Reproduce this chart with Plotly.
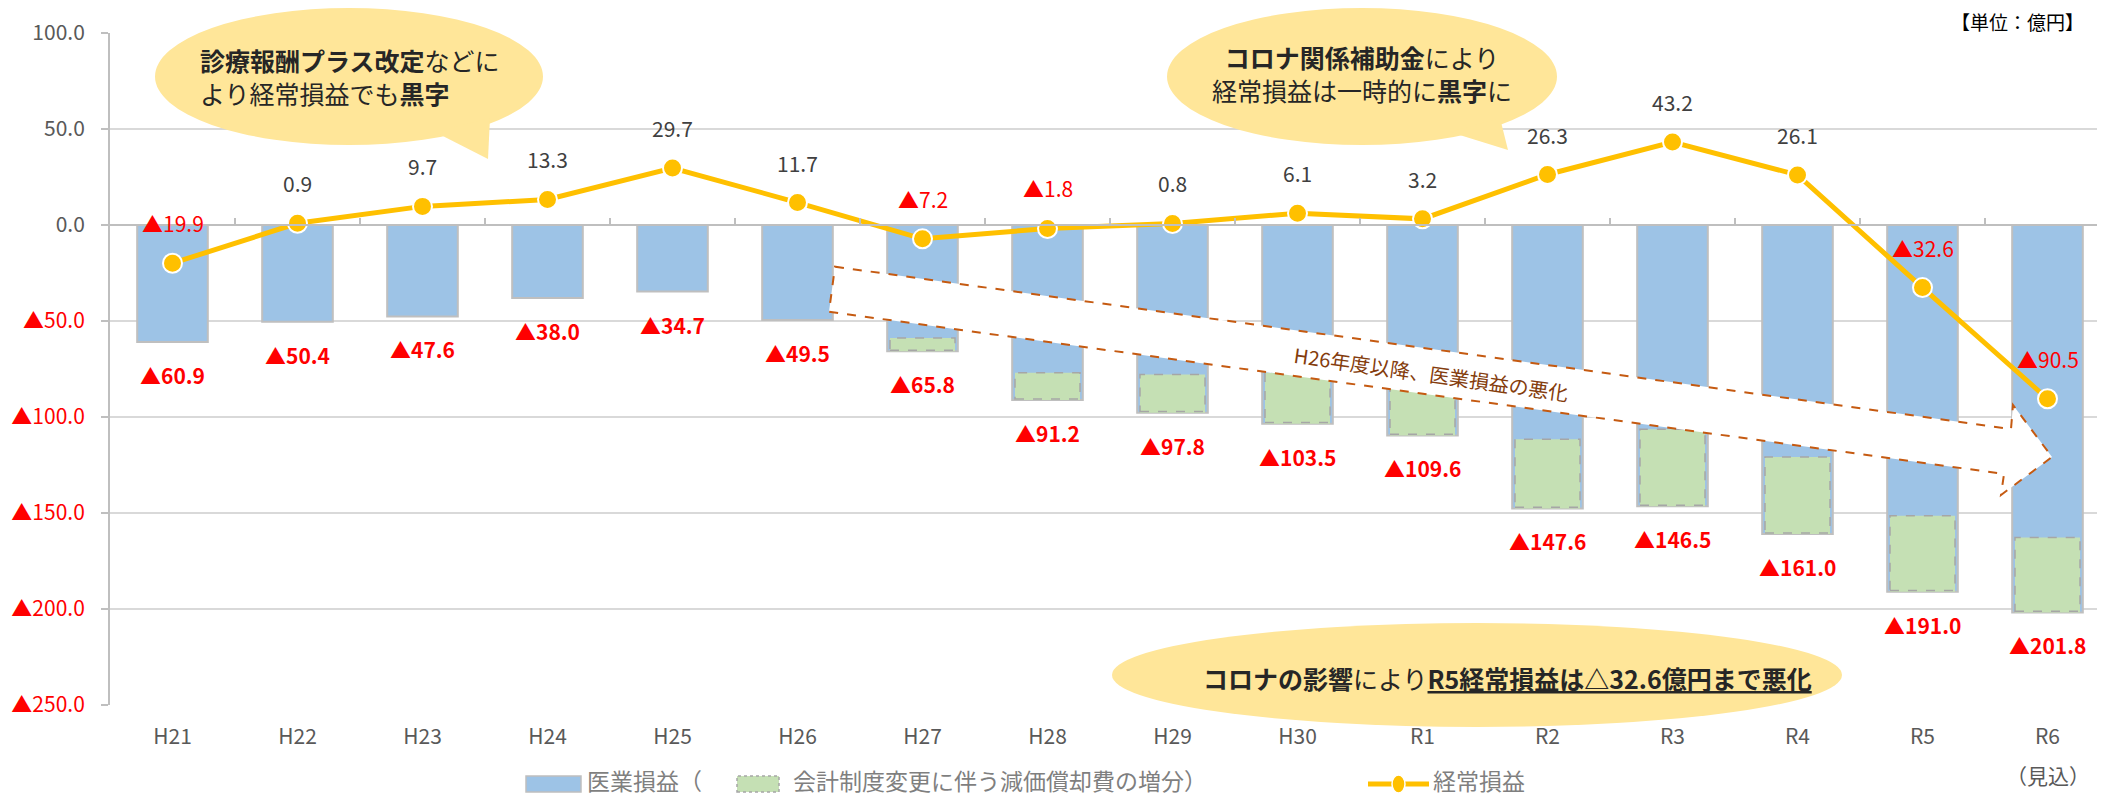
import plotly.graph_objects as go

# ---------------- data ----------------
categories = ["H21", "H22", "H23", "H24", "H25", "H26", "H27", "H28",
              "H29", "H30", "R1", "R2", "R3", "R4", "R5", "R6"]
medical_profit = [-60.9, -50.4, -47.6, -38.0, -34.7, -49.5, -65.8, -91.2,
                  -97.8, -103.5, -109.6, -147.6, -146.5, -161.0, -191.0, -201.8]
depreciation_increase = [0, 0, 0, 0, 0, 0, 6.9, 14.2,
                         19.9, 26.5, 27.0, 36.0, 40.1, 40.2, 39.6, 39.0]
ordinary_profit = [-19.9, 0.9, 9.7, 13.3, 29.7, 11.7, -7.2, -1.8,
                   0.8, 6.1, 3.2, 26.3, 43.2, 26.1, -32.6, -90.5]
ytick_vals = [100, 50, 0, -50, -100, -150, -200, -250]
ytick_labels = ["100.0", "50.0", "0.0", "▲50.0", "▲100.0", "▲150.0", "▲200.0", "▲250.0"]

FONT = "Noto Sans CJK JP"
W, H = 2105, 797
OFF = 8                      # page body margin in the browser
ML, MR, MT, MB = 102, 3, 25, 100
PL, PT = ML, MT
PW, PH = W - ML - MR, H - MT - MB


def px(x):          # screen pixel -> paper fraction
    return (x - OFF - PL) / PW


def py(y):
    return (PT + PH - (y - OFF)) / PH


def fmt(v):
    return "▲%.1f" % abs(v) if v < 0 else "%.1f" % v


fig = go.Figure()

# blue bars (医業損益)
fig.add_trace(go.Bar(
    x=categories, y=medical_profit, width=0.565,
    marker=dict(color="#9DC3E6", line=dict(color="#BFBFBF", width=2)),
    showlegend=False, hoverinfo="skip"))

# green portion (減価償却費の増分)
g_x, g_y, g_base = [], [], []
for c, t, g in zip(categories, medical_profit, depreciation_increase):
    if g > 0:
        g_x.append(c)
        g_y.append(-g)
        g_base.append(t + g)
fig.add_trace(go.Bar(
    x=g_x, y=g_y, base=g_base, width=0.52,
    marker=dict(color="#C5E0B4", line=dict(width=0)),
    showlegend=False, hoverinfo="skip"))

# line (経常損益)
fig.add_trace(go.Scatter(
    x=categories, y=ordinary_profit, mode="lines+markers",
    line=dict(color="#FFC000", width=5),
    marker=dict(size=19, color="#FFC000", line=dict(color="white", width=2)),
    showlegend=False, hoverinfo="skip"))

# dummy trace for zero-line axis
fig.add_trace(go.Scatter(x=[], y=[], xaxis="x2", yaxis="y", showlegend=False))

shapes = []
# dashed borders on green boxes
for i, (t, g) in enumerate(zip(medical_profit, depreciation_increase)):
    if g > 0:
        shapes.append(dict(type="rect", xref="x", yref="y",
                           x0=i - 0.26, x1=i + 0.26, y0=t + 0.6, y1=t + g,
                           line=dict(color="#A6A6A6", width=1.5, dash="dash"),
                           fillcolor="rgba(0,0,0,0)", layer="above"))

# big hollow arrow
arrow_pts = [(835, 266.7), (2011, 429), (2013, 405), (2052, 457),
             (2001, 495), (2004, 474), (829, 311.7)]
path = "M " + " L ".join("%f,%f" % (px(x), py(y)) for x, y in arrow_pts) + " Z"
shapes.append(dict(type="path", xref="paper", yref="paper", path=path,
                   fillcolor="white", line=dict(color="#C55A11", width=2, dash="dash"),
                   layer="above"))


def ellipse(x0, x1, y0, y1):
    return dict(type="circle", xref="paper", yref="paper",
                x0=px(x0), x1=px(x1), y0=py(y1), y1=py(y0),
                fillcolor="#FFE699", line=dict(width=0), layer="above")


def tri(pts):
    p = "M " + " L ".join("%f,%f" % (px(x), py(y)) for x, y in pts) + " Z"
    return dict(type="path", xref="paper", yref="paper", path=p,
                fillcolor="#FFE699", line=dict(width=0), layer="above")


shapes += [ellipse(155, 543, 8, 145), tri([(435, 132), (490, 118), (488, 159)]),
           ellipse(1167, 1557, 8, 145), tri([(1450, 132), (1500, 118), (1508, 150)]),
           ellipse(1112, 1842, 623, 727)]

# legend swatches
shapes += [
    dict(type="rect", xref="paper", yref="paper", x0=px(526), x1=px(581), y0=py(792), y1=py(776),
         fillcolor="#9DC3E6", line=dict(color="#BFBFBF", width=1.5)),
    dict(type="rect", xref="paper", yref="paper", x0=px(737), x1=px(779), y0=py(792), y1=py(776),
         fillcolor="#C5E0B4", line=dict(color="#A6A6A6", width=1.5, dash="dot")),
    dict(type="line", xref="paper", yref="paper", x0=px(1368), x1=px(1429), y0=py(784), y1=py(784),
         line=dict(color="#FFC000", width=5)),
    dict(type="circle", xref="paper", yref="paper", x0=px(1392), x1=px(1405), y0=py(793), y1=py(775),
         fillcolor="#FFC000", line=dict(color="white", width=1.5)),
]

ann = []
# line labels
for c, v in zip(categories, ordinary_profit):
    ann.append(dict(x=c, y=v, xref="x", yref="y", text=fmt(v), showarrow=False,
                    xanchor="center", yanchor="middle", yshift=40,
                    font=dict(family=FONT, size=21, color="#FF0000" if v < 0 else "#404040")))
# bar labels
for c, v in zip(categories, medical_profit):
    ann.append(dict(x=c, y=v, xref="x", yref="y", text="<b>%s</b>" % fmt(v), showarrow=False,
                    xanchor="center", yanchor="middle", yshift=-33,
                    font=dict(family=FONT, size=21, color="#FF0000")))

txt = "#262626"


def pa(x, y, text, size, color, xanchor="center", **kw):
    d = dict(x=px(x), y=py(y), xref="paper", yref="paper", xanchor=xanchor, yanchor="middle",
             showarrow=False, text=text, font=dict(family=FONT, size=size, color=color))
    d.update(kw)
    return d


ann += [
    pa(198, 76, "<b>診療報酬プラス改定</b>などに<br>より経常損益でも<b>黒字</b>", 25, txt,
       xanchor="left", align="left"),
    pa(1362, 73, "<b>コロナ関係補助金</b>により<br>経常損益は一時的に<b>黒字</b>に", 25, txt,
       align="center"),
    pa(1507, 678, "<b>コロナの影響</b>により<b><u>R5経常損益は△32.6億円まで悪化</u></b>", 25, txt),
    pa(1431, 373, "H26年度以降、医業損益の悪化", 20, "#843C0C", textangle=8),
    pa(2085, 21, "【単位：億円】", 19, "#000000", xanchor="right", borderpad=0),
    pa(586, 780, "医業損益（", 23, "#7F7F7F", xanchor="left", borderpad=0),
    pa(792, 780, "会計制度変更に伴う減価償却費の増分）", 23, "#7F7F7F", xanchor="left", borderpad=0),
    pa(1432, 780, "経常損益", 23, "#7F7F7F", xanchor="left", borderpad=0),
    dict(x="R6", y=py(775), xref="x", yref="paper", showarrow=False, xanchor="center",
         yanchor="middle", text="（見込）", font=dict(family=FONT, size=21, color="#595959")),
]

ytext = [('<span style="color:#FF0000">%s</span>' % s) if s.startswith("▲") else s
         for s in ytick_labels]

fig.update_layout(
    width=W, height=H, margin=dict(l=ML, r=MR, t=MT, b=MB),
    paper_bgcolor="white", plot_bgcolor="white",
    barmode="overlay", showlegend=False,
    font=dict(family=FONT, size=21, color="#595959"),
    xaxis=dict(type="category", categoryorder="array", categoryarray=categories,
               range=[-0.5, 15.5], showgrid=False, showline=False, ticks="",
               tickfont=dict(family=FONT, size=21, color="#595959"),
               ticklabelstandoff=17, zeroline=False),
    xaxis2=dict(overlaying="x", anchor="free", position=250 / 350, side="bottom",
                range=[-0.5, 15.5], tickvals=[i + 0.5 for i in range(15)],
                ticks="inside", ticklen=6, tickwidth=2, tickcolor="#BFBFBF",
                showticklabels=False, showline=True, linecolor="#BFBFBF", linewidth=2,
                showgrid=False, zeroline=False),
    yaxis=dict(range=[-250, 100], tickvals=ytick_vals, ticktext=ytext,
               showgrid=True, gridcolor="#D9D9D9", gridwidth=2,
               showline=True, linecolor="#BFBFBF", linewidth=2,
               ticks="outside", ticklen=7, tickwidth=2, tickcolor="#BFBFBF",
               tickfont=dict(family=FONT, size=21, color="#595959"),
               ticklabelstandoff=12, zeroline=False),
    shapes=shapes, annotations=ann,
)

fig.write_html("out.html")
